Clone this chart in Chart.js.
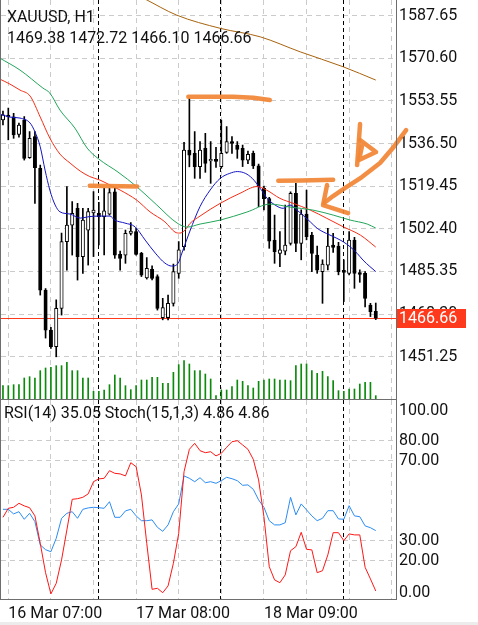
<!DOCTYPE html>
<html>
<head>
<meta charset="utf-8">
<title>XAUUSD H1</title>
<script src="https://cdn.jsdelivr.net/npm/chart.js"></script>
<style>
  html, body { margin: 0; padding: 0; background: #fff; }
  body { width: 478px; height: 625px; position: relative; overflow: hidden; font-family: Roboto, sans-serif; }
  canvas { position: absolute; left: 0; }
  #main { top: 0; }
  #osc { top: 399px; }
  .lbl { position: absolute; font-size: 16px; line-height: 19px; color: #111; white-space: nowrap; }
  #foot { position: absolute; left: 0; top: 622px; width: 478px; height: 3px; background: #ececec; }
</style>
</head>
<body>
<canvas id="main" width="478" height="400"></canvas>
<canvas id="osc" width="478" height="226"></canvas>
<div class="lbl" style="left:7px;top:7px">XAUUSD, H1</div>
<div class="lbl" id="ohlc" style="left:7px;top:28px"></div>
<div class="lbl" id="osclbl" style="left:4px;top:403px"></div>
<div id="foot"></div>
<script>
// hourly candles, index 0 = 16 Mar 06:00
const open  = [1546.0,1547.9,1547.2,1540.2,1545.9,1530.9,1539.3,1526.6,1477.9,1461.9,1455.3,1470.6,1497.3,1503.9,1510.6,1491.3,1501.9,1508.8,1508.6,1507.3,1508.3,1517.2,1492.2,1491.9,1500.6,1501.3,1492.6,1482.8,1486.2,1483.3,1466.9,1466.9,1472.6,1484.6,1495.3,1533.9,1532.6,1527.3,1534.6,1529.6,1530.2,1527.3,1533.0,1537.3,1535.9,1534.6,1529.9,1532.6,1527.6,1518.6,1514.5,1497.9,1492.6,1493.5,1496.6,1516.6,1496.6,1508.3,1499.9,1491.9,1485.3,1487.9,1495.9,1495.5,1485.8,1484.6,1497.9,1484.9,1484.6,1471.9,1469.38];
const high  = [1549.5,1550.7,1548.6,1544.7,1547.3,1541.3,1541.3,1527.9,1478.5,1463.0,1474.0,1500.7,1519.3,1513.3,1512.6,1510.6,1510.6,1517.3,1513.0,1518.6,1518.6,1518.6,1493.5,1501.9,1504.9,1502.6,1493.0,1490.9,1487.6,1484.0,1474.6,1475.9,1488.3,1497.3,1537.0,1554.6,1541.3,1537.3,1540.6,1537.3,1535.0,1545.9,1543.3,1539.3,1537.3,1535.9,1533.5,1533.5,1528.3,1519.5,1515.0,1507.9,1501.3,1511.9,1517.2,1520.6,1510.0,1517.9,1501.0,1495.5,1490.0,1502.6,1500.6,1497.0,1490.0,1501.3,1499.0,1486.0,1485.3,1472.6,1472.72];
const low   = [1544.0,1538.0,1538.6,1539.1,1529.9,1530.6,1512.6,1475.9,1458.7,1454.6,1451.2,1467.9,1485.9,1491.9,1481.9,1484.6,1487.9,1491.3,1496.0,1492.0,1507.9,1490.6,1485.9,1488.6,1499.9,1491.9,1483.3,1482.3,1482.0,1469.9,1466.0,1466.0,1471.5,1482.6,1493.9,1527.2,1522.6,1522.6,1525.0,1520.6,1527.0,1526.6,1532.6,1532.6,1530.6,1527.3,1528.5,1526.5,1511.3,1510.0,1494.6,1488.6,1487.3,1492.0,1495.9,1493.3,1490.0,1498.0,1485.3,1484.6,1472.6,1486.0,1493.0,1484.0,1473.3,1484.0,1478.6,1481.0,1471.2,1467.3,1466.10];
const close = [1548.0,1547.2,1540.0,1543.9,1530.6,1538.6,1526.9,1477.9,1461.9,1455.3,1470.6,1497.3,1503.9,1508.6,1491.3,1505.9,1509.3,1509.9,1507.3,1509.6,1516.9,1491.9,1490.6,1500.6,1501.5,1492.2,1483.9,1486.6,1482.6,1470.6,1470.9,1472.6,1485.3,1494.0,1533.9,1531.9,1527.3,1533.9,1528.6,1530.2,1529.4,1532.6,1537.3,1536.6,1534.2,1529.9,1532.2,1527.6,1519.3,1514.5,1497.5,1493.3,1494.0,1495.9,1516.6,1496.6,1508.3,1499.3,1492.6,1485.9,1488.3,1495.5,1495.0,1485.3,1485.0,1497.9,1484.6,1484.2,1474.6,1469.3,1466.66];
const volume = [4000,4000,4300,4300,6300,6700,6300,8500,9300,9500,10000,10000,11000,8500,8500,6300,6300,2300,2300,2700,4300,7200,6300,4000,2800,4000,5700,5700,6500,6500,4700,4700,8000,10300,11500,10500,8500,8500,7500,6000,1000,2700,2700,3700,5700,5300,4000,3300,5300,5700,6000,6000,5700,5700,5500,10000,10500,10500,8500,7700,8300,6700,5500,2500,2300,3000,3000,4500,5000,5000,1000];
const rsi   = [45.7,45.7,43.4,44.5,40.7,43.7,39.5,27.9,25.5,24.5,31.2,41.2,43.7,44.5,41.2,45.7,46.4,46.7,46.5,46.2,49.5,41.7,41.7,44.9,45.7,42.4,40.0,40.0,40.4,36.7,34.7,37.9,44.5,48.4,62.4,61.2,59.5,61.5,59.0,59.5,58.7,60.0,61.7,61.0,60.0,57.7,57.9,55.7,50.4,46.7,40.0,37.9,37.9,39.0,51.7,42.9,48.4,45.4,42.4,40.0,41.2,45.0,45.0,40.9,40.7,47.5,42.4,42.0,37.4,36.5,35.05];
const stoch = [41.7,46.2,46.7,48.7,47.4,46.5,42.4,28.7,14.0,3.4,8.7,20.4,35.4,50.7,51.0,51.7,53.4,59.5,60.9,61.2,65.0,63.7,63.4,62.4,69.0,67.0,52.9,28.7,5.7,6.2,4.0,7.4,18.7,33.7,64.5,75.7,78.7,75.0,74.0,74.5,72.4,73.7,76.7,79.5,80.0,77.9,75.7,70.7,60.4,42.0,17.0,10.4,9.0,12.9,25.0,27.0,34.2,25.7,25.4,14.0,15.0,22.9,34.0,34.0,30.0,33.4,32.9,32.9,16.7,10.9,4.86];

// moving averages as [candle index, price]
const maBlue  = [[-0.6,1548.3],[1.3,1547.1],[3.2,1546.7],[5.1,1544.7],[6.0,1541.2],[7.0,1535.2],[7.9,1525.9],[8.8,1517.9],[9.8,1511.9],[10.7,1509.2],[12.6,1508.3],[14.5,1506.7],[16.3,1507.3],[18.2,1507.5],[20.1,1507.5],[21.0,1505.9],[22.9,1504.7],[24.8,1503.2],[26.7,1497.9],[28.6,1492.7],[30.4,1488.7],[31.7,1487.5],[32.9,1488.7],[33.6,1492.7],[35.1,1501.5],[37.0,1511.3],[38.9,1517.9],[40.8,1522.6],[42.6,1524.6],[44.0,1525.3],[45.5,1524.6],[46.8,1522.6],[48.3,1518.6],[49.6,1514.6],[51.1,1511.9],[52.6,1510.6],[53.9,1511.9],[55.2,1509.9],[56.3,1507.9],[57.7,1505.2],[59.0,1502.6],[60.1,1501.2],[61.4,1499.9],[62.7,1498.6],[63.9,1497.2],[65.2,1495.2],[66.5,1492.6],[67.6,1489.9],[68.9,1487.3],[70.0,1485.3]];
const maRed   = [[-0.6,1562.3],[1.3,1560.3],[3.2,1557.9],[5.1,1555.5],[7.0,1547.1],[8.8,1538.7],[10.7,1532.3],[12.6,1528.7],[14.5,1525.5],[16.3,1523.3],[18.2,1521.9],[20.1,1519.9],[22.0,1517.9],[25.1,1513.9],[27.6,1509.2],[30.4,1505.2],[32.3,1501.1],[33.2,1500.7],[34.2,1501.9],[35.1,1504.5],[37.0,1507.5],[40.8,1512.6],[44.5,1516.6],[47.7,1519.3],[49.5,1517.9],[52.0,1514.6],[54.5,1512.6],[57.7,1509.9],[60.8,1506.6],[63.9,1503.2],[67.1,1499.9],[70.0,1495.1]];
const maGreen = [[-0.6,1570.7],[3.2,1565.9],[7.5,1558.7],[8.8,1556.7],[10.7,1549.9],[13.5,1542.7],[15.8,1534.7],[18.0,1530.3],[21.6,1525.1],[25.2,1519.1],[28.9,1511.9],[32.7,1504.7],[34.6,1503.1],[37.0,1504.3],[40.8,1505.9],[45.8,1509.1],[50.2,1512.3],[53.9,1511.1],[58.2,1509.9],[62.0,1507.9],[65.2,1505.9],[68.4,1504.3],[70.0,1502.7]];
const maBrown = [[26.7,1594.3],[32.6,1587.9],[40.8,1582.6],[48.3,1579.2],[55.8,1573.2],[63.9,1567.2],[70.0,1561.9]];

const priceTicks = [1451.25,1468.30,1485.35,1502.40,1519.45,1536.50,1553.55,1570.60,1587.65];
const oscTicks = [100,80,70,30,20,0];
const gridIdx = [1,9,17,25,33,41,49,57,65,73];
const dateTickIdx = [1,25,49];
const dateTickText = ['16 Mar 07:00','17 Mar 08:00','18 Mar 09:00'];
const daySeps = [17.9,40.75,63.8];

// hand-drawn orange marks, [candle index, price]
const sketch = [
  [[16.3,1519.6],[25.2,1519.3]],
  [[34.8,1555.2],[43.2,1555.2],[47.0,1554.8],[50.1,1553.9]],
  [[51.7,1521.6],[56.0,1521.7],[62.0,1522.0]],
  [[75.7,1541.9],[73.2,1534.7],[70.8,1528.7],[67.4,1523.1],[64.2,1518.7],[62.0,1515.5],[60.3,1512.7]],
  [[60.85,1519.9],[60.1,1511.9],[64.8,1508.7]],
  [[67.05,1544.3],[66.5,1527.9]],
  [[67.05,1537.9],[70.05,1533.1],[66.86,1529.9],[67.42,1535.5]]
];

const last = close.length - 1;
document.getElementById('ohlc').textContent = [open[last], high[last], low[last], close[last]].map(v => v.toFixed(2)).join(' ');
document.getElementById('osclbl').textContent = `RSI(14) ${rsi[last].toFixed(2)} Stoch(15,1,3) ${stoch[last].toFixed(2)} ${stoch[last].toFixed(2)}`;

const xMin = -0.37, xMax = 73.8;
const font = { family: 'Roboto', size: 16 };
const gridColor = '#cbcbcb';
const dash = [5, 4];
const pts = arr => arr.map((v, i) => ({ x: i, y: v }));
const pairs = arr => arr.map(([x, y]) => ({ x, y }));
const maLine = (d, c) => ({ type: 'line', data: pairs(d), borderColor: c, borderWidth: 1, pointRadius: 0, cubicInterpolationMode: 'monotone', order: 0 });
const gridTicks = s => { s.ticks = gridIdx.map(v => ({ value: v })); };

const frame = {
  id: 'frame',
  afterDraw(c) {
    const { ctx, chartArea: a } = c;
    ctx.save();
    ctx.strokeStyle = '#6e6e6e';
    ctx.lineWidth = 1;
    ctx.strokeRect(a.left - 0.5, a.top - 0.5, a.right - a.left + 1, a.bottom - a.top + 1);
    ctx.restore();
  }
};

const seps = {
  id: 'seps',
  beforeDatasetsDraw(c) {
    const { ctx, chartArea: a, scales: { x } } = c;
    ctx.save();
    ctx.strokeStyle = '#000';
    ctx.lineWidth = 1;
    ctx.setLineDash([4, 3]);
    daySeps.forEach(v => {
      const px = Math.round(x.getPixelForValue(v)) + 0.5;
      ctx.beginPath(); ctx.moveTo(px, a.top); ctx.lineTo(px, a.bottom); ctx.stroke();
    });
    ctx.restore();
  }
};

const bidLine = {
  id: 'bid',
  beforeDatasetsDraw(c) {
    const { ctx, chartArea: a, scales: { y } } = c;
    const py = Math.round(y.getPixelForValue(close[last])) + 0.5;
    ctx.save();
    ctx.strokeStyle = '#ff3a1c';
    ctx.beginPath(); ctx.moveTo(a.left, py); ctx.lineTo(a.right, py); ctx.stroke();
    ctx.restore();
  },
  afterDraw(c) {
    const { ctx, chartArea: a, scales: { x, y } } = c;
    const py = y.getPixelForValue(close[last]);
    ctx.save();
    ctx.fillStyle = '#ff3a1c';
    ctx.fillRect(a.right + 1, Math.round(py - 9.5), 69, 19);
    ctx.fillStyle = '#fff';
    ctx.font = '16px Roboto';
    ctx.textBaseline = 'middle';
    ctx.fillText(close[last].toFixed(2), a.right + 3, py + 0.5);
    // orange hand marks
    ctx.strokeStyle = 'rgba(241,134,52,0.92)';
    ctx.lineWidth = 4.5;
    ctx.lineCap = 'round';
    ctx.lineJoin = 'round';
    sketch.forEach(s => {
      ctx.beginPath();
      s.forEach(([i, p], k) => {
        const px = x.getPixelForValue(i), qy = y.getPixelForValue(p);
        k ? ctx.lineTo(px, qy) : ctx.moveTo(px, qy);
      });
      ctx.stroke();
    });
    ctx.restore();
  }
};

new Chart(document.getElementById('main'), {
  type: 'bar',
  data: {
    datasets: [
      maLine(maBrown, '#a8620c'),
      maLine(maGreen, '#22a55a'),
      maLine(maRed, '#f42d16'),
      maLine(maBlue, '#1414c4'),
      { data: open.map((o, i) => ({ x: i, y: [Math.min(o, close[i]), Math.max(o, close[i])] })),
        backgroundColor: open.map((o, i) => close[i] >= o ? '#fff' : '#000'),
        borderColor: '#000', borderWidth: 1, borderSkipped: false, barThickness: 3.4, minBarLength: 1, grouped: false, order: 1 },
      { data: low.map((l, i) => ({ x: i, y: [l, high[i]] })), backgroundColor: '#000', barThickness: 1, grouped: false, order: 2 },
      { data: pts(volume), yAxisID: 'yv', backgroundColor: '#0b8a0b', barThickness: 1, grouped: false, order: 3 }
    ]
  },
  options: {
    responsive: false, animation: false, devicePixelRatio: 1,
    layout: { padding: { left: 1, top: 0, right: 0, bottom: 1 } },
    plugins: { legend: { display: false }, tooltip: { enabled: false } },
    scales: {
      x: { type: 'linear', min: xMin, max: xMax, offset: false, afterBuildTicks: gridTicks,
           ticks: { display: false }, grid: { color: gridColor, drawTicks: false, offset: false },
           border: { display: false, dash }, afterFit: s => { s.height = 0; } },
      y: { position: 'right', min: 1434.33, max: 1593.93,
           afterBuildTicks: s => { s.ticks = priceTicks.map(v => ({ value: v })); },
           ticks: { font, color: '#111', padding: 3, autoSkip: false, callback: v => v.toFixed(2) },
           grid: { color: gridColor, drawTicks: false }, border: { display: false, dash },
           afterFit: s => { s.width = 82; s.paddingTop = 0; s.paddingBottom = 0; } },
      yv: { display: false, min: 0, max: 119700 }
    }
  },
  plugins: [seps, bidLine, frame]
});

new Chart(document.getElementById('osc'), {
  type: 'line',
  data: {
    datasets: [
      { data: pts(stoch), borderColor: '#ff1616', borderWidth: 1, pointRadius: 0 },
      { data: pts(rsi), borderColor: '#2b8cf2', borderWidth: 1, pointRadius: 0 }
    ]
  },
  options: {
    responsive: false, animation: false, devicePixelRatio: 1,
    layout: { padding: { left: 1, top: 1, right: 0, bottom: 0 } },
    plugins: { legend: { display: false }, tooltip: { enabled: false } },
    scales: {
      x: { type: 'linear', min: xMin, max: xMax, afterBuildTicks: gridTicks,
           ticks: { font, color: '#111', align: 'start', maxRotation: 0, autoSkip: false, padding: 5,
                    callback: v => { const k = dateTickIdx.indexOf(v); return k < 0 ? '' : dateTickText[k]; } },
           grid: { color: gridColor, drawTicks: false }, border: { display: false, dash },
           afterFit: s => { s.height = 26; s.paddingLeft = 0; s.paddingRight = 0; } },
      y: { position: 'right', min: 0.85, max: 100.35,
           afterBuildTicks: s => {
             s.ticks = oscTicks.map(v => ({ value: Math.min(Math.max(v, s.min + 3), s.max - 5.5), txt: v.toFixed(2), line: v > s.min + 1 && v < s.max - 1 }));
           },
           ticks: { font, color: '#111', padding: 3, autoSkip: false, callback: (v, i, t) => t[i].txt },
           grid: { color: c => c.tick && c.tick.line === false ? 'rgba(0,0,0,0)' : gridColor, drawTicks: false },
           border: { display: false, dash },
           afterFit: s => { s.width = 82; s.paddingTop = 0; s.paddingBottom = 0; } }
    }
  },
  plugins: [seps, frame]
});
</script>
</body>
</html>
